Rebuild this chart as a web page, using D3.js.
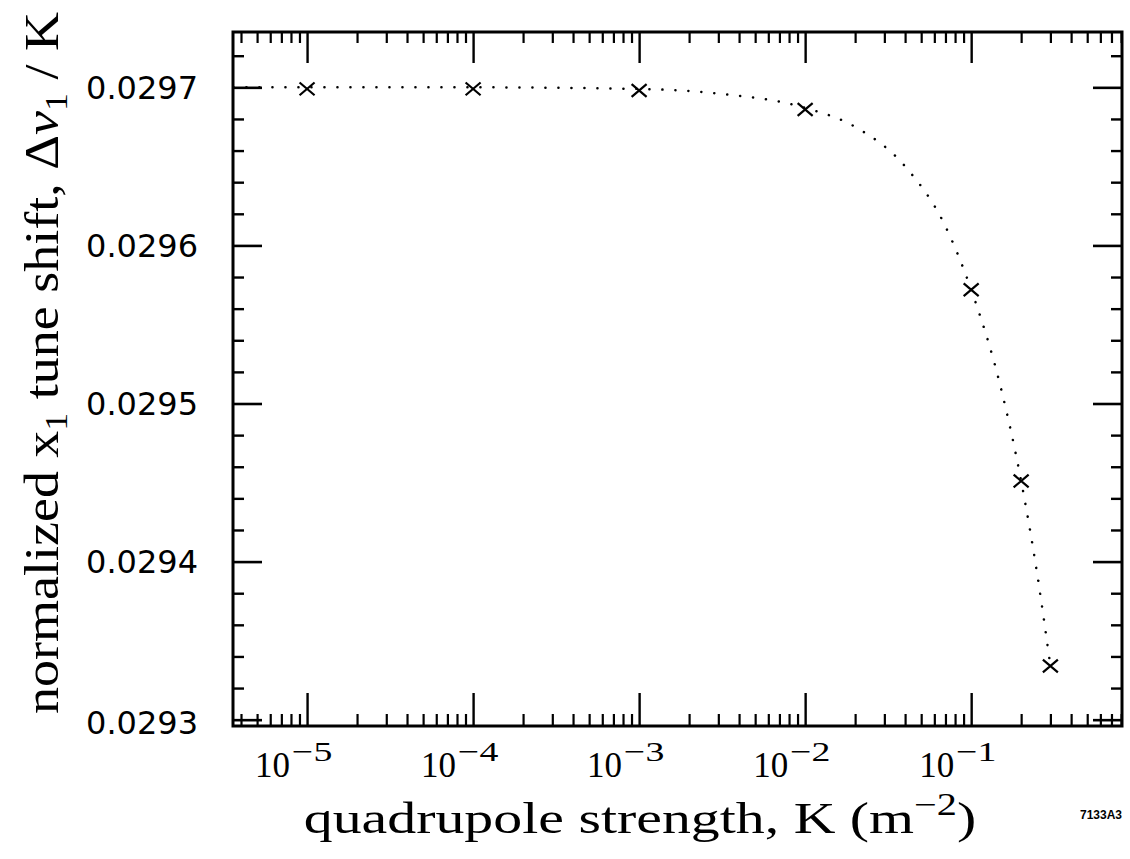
<!DOCTYPE html>
<html><head><meta charset="utf-8">
<script src="https://cdn.jsdelivr.net/npm/d3@7"></script>
<style>body{margin:0;background:#fff}</style>
</head><body>
<svg id="c" width="1130" height="859"></svg>
<script>
// data
const kValues = [1e-5, 1e-4, 1e-3, 1e-2, 0.1, 0.2, 0.3];
const tuneShift = [0.029699, 0.029699, 0.029698, 0.029686, 0.029572, 0.029451, 0.029334];
// dotted fit curve
const curveK = [3.6e-6, 1e-5, 1e-4, 1e-3, 3e-3, 1e-2, 0.02, 0.04, 0.07, 0.1, 0.15, 0.2, 0.25, 0.3];
const curveV = [0.029700, 0.029700, 0.029700, 0.029699, 0.029696, 0.029687, 0.029675, 0.029650, 0.029612, 0.029572, 0.029511, 0.029451, 0.029392, 0.029334];
const yTickValues = [0.0293, 0.0294, 0.0295, 0.0296, 0.0297];
const yTickLabels = ["0.0293", "0.0294", "0.0295", "0.0296", "0.0297"];
const xTickExps = [-5, -4, -3, -2, -1];

const svg = d3.select("#c");
const L = 233, R = 1122, T = 32, B = 726;
const x = d3.scaleLog().domain([3.58e-6, 0.81]).range([L, R]);
const y = d3.scaleLinear().domain([0.029296, 0.029735]).range([B, T]);

const isMajor = v => Math.abs(Math.log10(v) - Math.round(Math.log10(v))) < 1e-6;
const allX = x.ticks();
const minorX = allX.filter(v => !isMajor(v));
const majorX = allX.filter(isMajor);
const yMinor = d3.range(0, 22).map(i => 0.0293 + i * 0.00002).filter(v => yTickValues.every(t => Math.abs(t - v) > 1e-9));

function styleAxis(g, w) {
  g.select(".domain").remove();
  g.selectAll(".tick line").attr("stroke", "#000").attr("stroke-width", w);
  g.selectAll(".tick text").remove();
}
// bottom
svg.append("g").attr("transform", `translate(0,${B})`)
  .call(d3.axisBottom(x).tickValues(minorX).tickSize(-12).tickFormat("")).call(g => styleAxis(g, 2.2));
svg.append("g").attr("transform", `translate(0,${B})`)
  .call(d3.axisBottom(x).tickValues(majorX).tickSize(-33).tickFormat("")).call(g => styleAxis(g, 2.4));
// top
svg.append("g").attr("transform", `translate(0,${T})`)
  .call(d3.axisTop(x).tickValues(minorX).tickSize(-11).tickFormat("")).call(g => styleAxis(g, 2.2));
svg.append("g").attr("transform", `translate(0,${T})`)
  .call(d3.axisTop(x).tickValues(majorX).tickSize(-31).tickFormat("")).call(g => styleAxis(g, 2.4));
// left
svg.append("g").attr("transform", `translate(${L},0)`)
  .call(d3.axisLeft(y).tickValues(yMinor).tickSize(-11).tickFormat("")).call(g => styleAxis(g, 2.4));
svg.append("g").attr("transform", `translate(${L},0)`)
  .call(d3.axisLeft(y).tickValues(yTickValues).tickSize(-29).tickFormat("")).call(g => styleAxis(g, 2.6));
// right
svg.append("g").attr("transform", `translate(${R},0)`)
  .call(d3.axisRight(y).tickValues(yMinor).tickSize(-11).tickFormat("")).call(g => styleAxis(g, 2.4));
svg.append("g").attr("transform", `translate(${R},0)`)
  .call(d3.axisRight(y).tickValues(yTickValues).tickSize(-29).tickFormat("")).call(g => styleAxis(g, 2.6));

// frame
svg.append("rect").attr("x", L).attr("y", T).attr("width", R - L).attr("height", B - T)
  .attr("fill", "none").attr("stroke", "#000").attr("stroke-width", 3);

// y tick labels
svg.append("g").selectAll("text").data(yTickValues).join("text")
  .attr("x", 198).attr("y", d => y(d) + (d === 0.0293 ? 3 : 0)).attr("dy", "0.36em")
  .attr("text-anchor", "end")
  .attr("font-family", "DejaVu Sans").attr("font-size", 32)
  .text((d, i) => yTickLabels[i]);

// x tick labels
const xg = svg.append("g").selectAll("g").data(xTickExps).join("g")
  .attr("transform", d => `translate(${x(Math.pow(10, d)) - 52},777)`)
  .attr("font-family", "Liberation Serif");
xg.append("text").attr("font-size", 35).text("10");
xg.append("text").attr("transform", "translate(37,-16) scale(1.35,1)")
  .attr("font-size", 28).text(d => "\u2212" + Math.abs(d));

// dotted curve
const line = d3.line().x(d => x(d[0])).y(d => y(d[1])).curve(d3.curveMonotoneX);
svg.append("path").datum(curveK.map((k, i) => [k, curveV[i]]))
  .attr("d", line).attr("fill", "none").attr("stroke", "#000")
  .attr("stroke-width", 2.5).attr("stroke-linecap", "round")
  .attr("stroke-dasharray", "0.1 12.9");

// markers
const s = 7.5;
svg.append("g").selectAll("path").data(kValues.map((k, i) => [k, tuneShift[i]])).join("path")
  .attr("d", d => {
    const cx = x(d[0]), cy = y(d[1]);
    return `M${cx - s},${cy - s * 0.85}L${cx + s},${cy + s * 0.85}M${cx - s},${cy + s * 0.85}L${cx + s},${cy - s * 0.85}`;
  })
  .attr("stroke", "#000").attr("stroke-width", 2.2).attr("fill", "none");

// x title
const xt = svg.append("text").attr("transform", "translate(640,833) scale(1.3,1)")
  .attr("text-anchor", "middle")
  .attr("font-family", "Liberation Serif").attr("font-size", 44.5);
xt.append("tspan").text("quadrupole strength, K (m");
xt.append("tspan").attr("dy", -18).attr("font-size", 31).text("\u22122");
xt.append("tspan").attr("dy", 18).text(")");

// y title
const yt = svg.append("text").attr("transform", "translate(58,363) rotate(-90) scale(1.125,1)")
  .attr("text-anchor", "middle").attr("font-family", "Liberation Serif").attr("font-size", 48);
yt.append("tspan").text("normalized x");
yt.append("tspan").attr("dy", 9).attr("font-size", 32).text("1");
yt.append("tspan").attr("dy", -9).text(" tune shift, \u0394");
yt.append("tspan").attr("font-style", "italic").text("\u03bd");
yt.append("tspan").attr("dy", 9).attr("font-size", 32).text("1");
yt.append("tspan").attr("dy", -9).text(" / K");

// figure id
svg.append("text").attr("x", 1122).attr("y", 819).attr("text-anchor", "end")
  .attr("font-family", "Liberation Sans").attr("font-weight", "bold").attr("font-size", 12)
  .text("7133A3");
</script>
</body></html>
